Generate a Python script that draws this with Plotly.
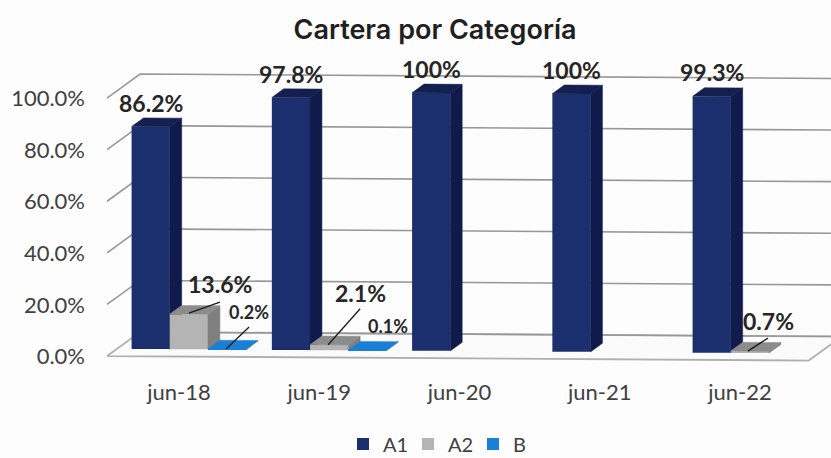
import plotly.graph_objects as go

# Chart values
categories = ["jun-18", "jun-19", "jun-20", "jun-21", "jun-22"]
a1_values = [86.2, 97.8, 100, 100, 99.3]
a2_values = [13.6, 2.1, 0, 0, 0.7]
b_values = [0.2, 0.1, 0, 0, 0]
a1_labels = ["86.2%", "97.8%", "100%", "100%", "99.3%"]
a2_labels = ["13.6%", "2.1%", "", "", "0.7%"]
b_labels = ["0.2%", "0.1%", "", "", ""]
y_ticks = [0, 20, 40, 60, 80, 100]
y_tick_labels = ["0.0%", "20.0%", "40.0%", "60.0%", "80.0%", "100.0%"]

# Scale of the drawing
W, H = 831, 458
PLOT_L, PLOT_R, PLOT_T, PLOT_B = 92, 831, 40, 375
PX_PER_CAT = 140.25
PX_PER_PCT = 2.58
ORIGIN_X, ORIGIN_Y = 179, 356.5      # category 0, value 0, front of the floor

# Oblique projection: depth 0 is the front of the floor, depth 1 the back wall
DEPTH_X = 33 / PX_PER_CAT
DEPTH_Y = 24 / PX_PER_PCT
TILT = 0.9 / PX_PER_PCT              # the whole chart leans slightly per category
BAR_W = 38.2 / PX_PER_CAT
BAR_D0, BAR_D1 = 0.30, 0.66
FLOOR_L, FLOOR_R = -0.513, 4.49


def proj(cat, val, depth=0.0):
    return cat + depth * DEPTH_X, val + depth * DEPTH_Y - cat * TILT


def polygons(faces):
    xs, ys = [], []
    for face in faces:
        pts = [proj(*p) for p in face]
        pts.append(pts[0])
        xs += [p[0] for p in pts] + [None]
        ys += [p[1] for p in pts] + [None]
    return xs, ys


def side_faces(centers, values):
    faces = []
    for c, v in zip(centers, values):
        r = c + BAR_W / 2
        faces.append([(r, 0, BAR_D0), (r, 0, BAR_D1), (r, v, BAR_D1), (r, v, BAR_D0)])
    return faces


def top_faces(centers, values):
    faces = []
    for c, v in zip(centers, values):
        l, r = c - BAR_W / 2, c + BAR_W / 2
        faces.append([(l, v, BAR_D0), (r, v, BAR_D0), (r, v, BAR_D1), (l, v, BAR_D1)])
    return faces


fig = go.Figure()

# Floor, walls and gridlines sit on the lowest layer
floor_x, floor_y = polygons([[(FLOOR_L, 0, 0), (FLOOR_R, 0, 0), (FLOOR_R, 0, 1), (FLOOR_L, 0, 1)]])
fig.add_trace(go.Scatter(x=floor_x, y=floor_y, mode="lines", fill="toself", fillcolor="#fbfbfb",
                         line=dict(color="#b0b0b0", width=1.8), hoverinfo="skip", showlegend=False))
grid_x, grid_y = [], []
for t in y_ticks[1:]:
    pts = [proj(FLOOR_L, t, 0), proj(FLOOR_L, t, 1), proj(FLOOR_R, t, 1)]
    grid_x += [p[0] for p in pts] + [None]
    grid_y += [p[1] for p in pts] + [None]
grid_x += [proj(FLOOR_R, 0, 1)[0], proj(FLOOR_L, 0, 1)[0]]
grid_y += [proj(FLOOR_R, 0, 1)[1], proj(FLOOR_L, 0, 1)[1]]
fig.add_trace(go.Scatter(x=grid_x, y=grid_y, mode="lines", line=dict(color="#989898", width=1.6),
                         hoverinfo="skip", showlegend=False))

# One overlaid subplot per series, so each cluster stacks its faces left to right
series = [
    ("A1", a1_values, -BAR_W, "#1b2e6d", "#101a4b", "#131f4e", "x2", "y2"),
    ("A2", a2_values, 0.0, "#b4b4b4", "#7f7f7f", "#8c8c8c", "x3", "y3"),
    ("B", b_values, BAR_W, "#1a80d6", "#1467ad", "#1a80d6", "x4", "y4"),
]
for name, values, offset, front, side, top, xa, ya in series:
    idx = [i for i, v in enumerate(values) if v > 0]
    cats = [i + BAR_D0 * DEPTH_X + offset for i in idx]
    cents = [i + offset for i in idx]
    vals = [values[i] for i in idx]
    bases = [proj(c, 0, BAR_D0)[1] for c in cents]
    fig.add_trace(go.Bar(name=name, x=cats, y=vals, base=bases, width=BAR_W,
                         marker=dict(color=front, line=dict(width=0)),
                         xaxis=xa, yaxis=ya, legendgroup=name,
                         hovertemplate=name + ": %{y}%<extra></extra>"))
    sx, sy = polygons(side_faces(cents, vals))
    fig.add_trace(go.Scatter(x=sx, y=sy, mode="lines", fill="toself", fillcolor=side,
                             line=dict(color=side, width=0.5), xaxis=xa, yaxis=ya,
                             legendgroup=name, hoverinfo="skip", showlegend=False))
    tx, ty = polygons(top_faces(cents, vals))
    fig.add_trace(go.Scatter(x=tx, y=ty, mode="lines", fill="toself", fillcolor=top,
                             line=dict(color=top, width=0.5), xaxis=xa, yaxis=ya,
                             legendgroup=name, hoverinfo="skip", showlegend=False))


def anchor(cat, offset, val, dx_px, dy_px):
    """Point dx_px right of and dy_px above the top front edge of a bar."""
    x, y = proj(cat + offset, val, BAR_D0)
    return x + dx_px / PX_PER_CAT, y + dy_px / PX_PER_PCT


# Leader lines from the short bars to their labels
leaders = [
    (0, 0.0, a2_values[0], (0, 1), (31, 12)),
    (0, BAR_W, b_values[0], (-1, 0), (22, 22)),
    (1, 0.0, a2_values[1], (-1, 0), (31, 36)),
    (4, 0.0, a2_values[4], (-2, 0), (18, 13)),
]
lx, ly = [], []
for cat, off, val, start, end in leaders:
    for dx, dy in (start, end):
        p = anchor(cat, off, val, dx, dy)
        lx.append(p[0])
        ly.append(p[1])
    lx.append(None)
    ly.append(None)
fig.add_trace(go.Scatter(x=lx, y=ly, mode="lines", line=dict(color="#1a1a1a", width=1.3),
                         xaxis="x4", yaxis="y4", hoverinfo="skip", showlegend=False))

# Data labels
annotations = []
BIG = dict(family="Lato", size=23, color="#262626", weight="bold")
SMALL = dict(family="Lato", size=18, color="#262626", weight="bold")
label_spots = [
    (a1_labels, a1_values, -BAR_W, [(0, 24)] * 5, BIG),
    (a2_labels, a2_values, 0.0, [(31, 30), (31, 52), (0, 0), (0, 0), (19, 30)], BIG),
    (b_labels, b_values, BAR_W, [(22, 37), (21, 24), (0, 0), (0, 0), (0, 0)], SMALL),
]
for texts, values, off, spots, font in label_spots:
    for i, (txt, val, (dx, dy)) in enumerate(zip(texts, values, spots)):
        if not txt:
            continue
        ax, ay = anchor(i, off, val, dx, dy)
        annotations.append(dict(x=ax, y=ay, xref="x", yref="y", text=txt, showarrow=False,
                                xanchor="center", yanchor="middle", font=font))

x_range = [(PLOT_L - ORIGIN_X) / PX_PER_CAT, (PLOT_R - ORIGIN_X) / PX_PER_CAT]
y_range = [(ORIGIN_Y - PLOT_B) / PX_PER_PCT, (ORIGIN_Y - PLOT_T) / PX_PER_PCT]
hidden_x = dict(overlaying="x", matches="x", visible=False, anchor="y")
hidden_y = dict(overlaying="y", matches="y", visible=False, anchor="x")

fig.update_layout(
    width=W, height=H,
    margin=dict(l=PLOT_L, r=W - PLOT_R, t=PLOT_T, b=H - PLOT_B, pad=0),
    paper_bgcolor="#fdfdfd", plot_bgcolor="rgba(0,0,0,0)",
    barmode="overlay",
    title=dict(text="Cartera por Categoría", x=435 / W, xanchor="center", y=1 - 30 / H, yanchor="middle",
               font=dict(family="Inter", size=27, color="#1f1f1f", weight=600)),
    xaxis=dict(range=x_range, tickmode="array", tickvals=list(range(5)), ticktext=categories,
               showgrid=False, zeroline=False, showline=False, ticks="", ticklabelstandoff=2,
               tickfont=dict(family="Lato", size=22, color="#404040")),
    yaxis=dict(range=y_range, tickmode="array", tickvals=y_ticks, ticktext=y_tick_labels,
               showgrid=False, zeroline=False, showline=False, ticks="", ticklabelstandoff=6,
               tickfont=dict(family="Lato", size=22, color="#404040")),
    xaxis2=dict(hidden_x, anchor="y2"), yaxis2=dict(hidden_y, anchor="x2"),
    xaxis3=dict(hidden_x, anchor="y3"), yaxis3=dict(hidden_y, anchor="x3"),
    xaxis4=dict(hidden_x, anchor="y4"), yaxis4=dict(hidden_y, anchor="x4"),
    legend=dict(orientation="h", xref="container", yref="container",
                x=343 / W, xanchor="left", y=1 - 444 / H, yanchor="middle",
                font=dict(family="Lato", size=20, color="#404040"), traceorder="normal",
                itemwidth=30, entrywidth=20, entrywidthmode="pixels", bgcolor="rgba(0,0,0,0)"),
    annotations=annotations,
)

fig.write_html("out.html")
